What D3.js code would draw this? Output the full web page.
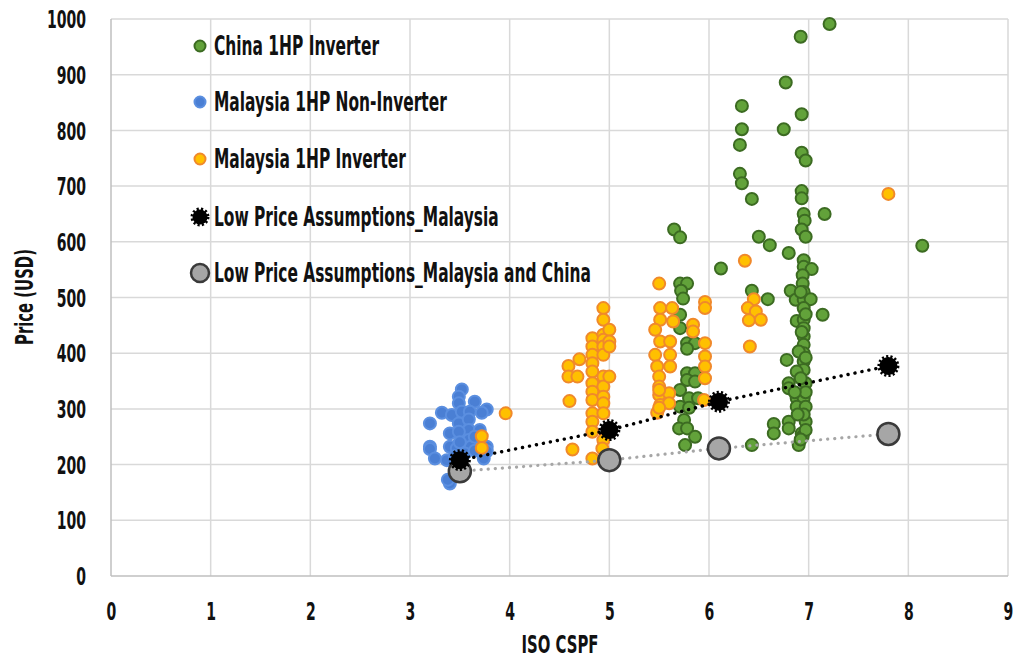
<!DOCTYPE html>
<html><head><meta charset="utf-8">
<script src="https://cdn.jsdelivr.net/npm/d3@7"></script>
<style>
html,body{margin:0;padding:0;background:#fff;}
svg text{font-family:"DejaVu Sans Condensed","DejaVu Sans",sans-serif;font-stretch:condensed;font-weight:bold;fill:#111;}
</style></head>
<body><svg id="c" width="1015" height="660"></svg>
<script>
const seriesNames = ["China 1HP Inverter","Malaysia 1HP Non-Inverter","Malaysia 1HP Inverter","Low Price Assumptions_Malaysia","Low Price Assumptions_Malaysia and China"];
const xTicks = [0,1,2,3,4,5,6,7,8,9];
const yTicks = [0,100,200,300,400,500,600,700,800,900,1000];

const chinaInverter = [
 [7.21,991],[6.92,968],[6.77,886],[6.33,844],[6.93,829],[6.33,802],[6.75,802],[6.31,774],[6.93,760],[6.97,746],
 [6.31,722],[6.33,705],[6.43,677],[6.93,691],[6.93,678],[7.16,650],[6.95,650],[6.96,638],[6.93,622],[6.97,609],
 [6.50,609],[6.61,594],[6.80,580],[5.65,622],[5.71,608],[6.12,552],[6.43,512],[6.82,512],[6.59,497],[6.87,496],
 [7.14,469],[6.88,458],[6.95,567],[6.95,555],[7.03,551],[6.94,540],[6.94,525],[6.95,510],[6.95,496],[7.02,497],
 [6.95,481],[6.95,460],[6.95,445],[6.95,430],[6.95,415],[6.95,400],[6.95,385],[6.95,370],[6.90,403],[6.78,388],
 [6.88,367],[6.80,346],[6.80,337],[6.97,346],[6.88,319],[6.95,319],[6.88,304],[6.97,304],[6.97,277],[6.80,277],
 [6.65,273],[6.65,256],[6.80,265],[6.93,256],[6.94,251],[6.90,235],[6.43,235],[6.97,330],[6.95,290],[6.92,355],
 [6.97,392],[6.93,438],[6.97,470],[6.92,510],[6.89,290],[6.97,262],[6.86,330],[6.92,245],
 [5.71,525],[5.78,525],[5.72,512],[5.74,498],[5.71,469],[5.71,445],[5.78,418],[5.86,418],[5.78,408],[5.78,364],
 [5.86,364],[5.78,352],[5.86,349],[5.71,334],[5.80,319],[5.89,319],[5.71,304],[5.80,302],[5.75,280],[5.70,265],
 [5.78,265],[5.86,250],[5.76,235],[8.14,593]
];
const malaysiaNonInverter = [
 [3.52,335],[3.49,322],[3.49,310],[3.65,313],[3.77,299],[3.32,293],[3.42,289],[3.52,295],[3.60,295],[3.72,293],
 [3.20,274],[3.49,274],[3.59,281],[3.40,256],[3.59,262],[3.49,259],[3.70,262],[3.59,244],[3.20,232],[3.20,228],
 [3.40,232],[3.47,229],[3.61,232],[3.77,232],[3.77,224],[3.25,211],[3.37,208],[3.74,211],[3.40,166],[3.38,173],
 [3.50,240],[3.65,250],[3.55,220],[3.45,215],[3.65,225]
];
const malaysiaInverter = [
 [3.96,292],[3.72,251],[3.72,230],
 [4.59,377],[4.70,389],[4.59,358],[4.68,358],[4.60,314],[4.63,227],
 [4.83,427],[4.83,412],[4.83,397],[4.83,382],[4.83,367],[4.83,346],[4.83,331],[4.83,316],[4.83,292],[4.83,277],[4.83,259],[4.83,211],
 [4.94,481],[4.94,460],[4.94,433],[4.94,424],[4.94,412],[4.94,397],[4.94,358],[4.94,340],[4.94,322],[4.94,310],[4.94,292],[4.94,244],
 [5.00,442],[5.00,421],[5.00,412],[5.00,358],[4.93,229],
 [5.50,525],[5.51,481],[5.51,460],[5.46,442],[5.51,421],[5.46,397],[5.48,376],[5.50,358],[5.50,340],[5.50,325],[5.51,307],[5.48,293],
 [5.63,481],[5.64,457],[5.61,421],[5.61,397],[5.61,376],[5.60,328],[5.60,310],[5.50,334],[5.50,302],
 [5.96,492],[5.96,481],[5.84,451],[5.84,439],[5.96,418],[5.96,394],[5.96,376],[5.96,355],[5.95,316],
 [6.36,566],[6.45,497],[6.39,481],[6.47,475],[6.40,459],[6.52,460],[6.41,412],
 [7.80,686]
];
const assumptionX = [3.5,5.0,6.1,7.8];
const lowPriceMalaysia = [208,262,313,377];
const lowPriceMalaysiaChina = [188,208,229,255];

const svg = d3.select("#c");
const x = d3.scaleLinear().domain([0,9]).range([111,1008]);
const y = d3.scaleLinear().domain([0,1000]).range([576,19]);

function squeeze(sel, s){
 sel.each(function(){
  const t = d3.select(this);
  const ax = +t.attr("x") || 0;
  t.attr("transform", `translate(${ax},0) scale(${s},1) translate(${-ax},0)`);
 });
}

// grid
svg.append("g").selectAll("line").data(yTicks.slice(1)).join("line")
 .attr("x1",x(0)).attr("x2",x(9)).attr("y1",d=>y(d)).attr("y2",d=>y(d))
 .attr("stroke","#d9d9d9").attr("stroke-width",1.5);
svg.append("g").selectAll("line").data(xTicks.slice(1)).join("line")
 .attr("y1",y(0)).attr("y2",y(1000)).attr("x1",d=>x(d)).attr("x2",d=>x(d))
 .attr("stroke","#d9d9d9").attr("stroke-width",1.5);
svg.append("line").attr("x1",x(0)).attr("x2",x(9)).attr("y1",y(0)).attr("y2",y(0)).attr("stroke","#bfbfbf").attr("stroke-width",1.5);
svg.append("line").attr("x1",x(0)).attr("x2",x(0)).attr("y1",y(0)).attr("y2",y(1000)).attr("stroke","#bfbfbf").attr("stroke-width",1.5);

const xAxis = svg.append("g").attr("transform",`translate(0,${y(0)})`).call(d3.axisBottom(x).tickValues(xTicks).tickSize(0).tickFormat(d3.format("d")));
const yAxis = svg.append("g").attr("transform",`translate(${x(0)},0)`).call(d3.axisLeft(y).tickValues(yTicks).tickSize(0).tickPadding(25).tickFormat(d3.format("d")));
[xAxis,yAxis].forEach(a=>{a.select(".domain").remove();a.selectAll("text").attr("font-size",24).attr("font-family",null).style("fill","#111");});
xAxis.selectAll("text").attr("y",35).attr("dy","0.36em");
yAxis.selectAll("text").attr("dy","0.36em");
squeeze(xAxis.selectAll("text"),0.65);
squeeze(yAxis.selectAll("text"),0.65);

const xt = svg.append("g").attr("transform","translate(560,644)");
squeeze(xt.append("text").attr("text-anchor","middle").attr("dy","0.36em").attr("font-size",25).text("ISO CSPF"),0.66);
const yt = svg.append("g").attr("transform","translate(24,297) rotate(-90)");
squeeze(yt.append("text").attr("text-anchor","middle").attr("dy","0.36em").attr("font-size",25).text("Price (USD)"),0.66);

const styles = [
 {fill:"#62a23a",stroke:"#3c6b22"},
 {fill:"#4a7fd4",stroke:"#5b8fe0"},
 {fill:"#ffc000",stroke:"#f0892b"}
];
const plot = svg.append("g");
[chinaInverter,malaysiaNonInverter,malaysiaInverter].forEach((data,i)=>{
 plot.append("g").selectAll("circle").data(data).join("circle")
  .attr("cx",d=>x(d[0])).attr("cy",d=>y(d[1])).attr("r",6)
  .attr("fill",styles[i].fill).attr("stroke",styles[i].stroke).attr("stroke-width",2);
});

const line = d3.line().x(d=>x(d[0])).y(d=>y(d[1]));
const grayPts = assumptionX.map((v,i)=>[v,lowPriceMalaysiaChina[i]]);
const blackPts = assumptionX.map((v,i)=>[v,lowPriceMalaysia[i]]);
plot.append("path").attr("d",line(grayPts)).attr("fill","none").attr("stroke","#a6a6a6").attr("stroke-width",3.2).attr("stroke-linecap","round").attr("stroke-dasharray","0.1 7");
plot.append("path").attr("d",line(blackPts)).attr("fill","none").attr("stroke","#000").attr("stroke-width",3.4).attr("stroke-linecap","round").attr("stroke-dasharray","0.1 7");

function blackMarker(g,cx,cy,r){
 g.append("circle").attr("cx",cx).attr("cy",cy).attr("r",r).attr("fill","#000").attr("stroke","#000").attr("stroke-width",4).attr("stroke-dasharray","2 2");
}
function grayMarker(g,cx,cy,r){
 g.append("circle").attr("cx",cx).attr("cy",cy).attr("r",r).attr("fill","#a6a6a6").attr("stroke","#3a3a3a").attr("stroke-width",2.5);
}
grayPts.forEach(d=>grayMarker(plot,x(d[0]),y(d[1]),11));
blackPts.forEach(d=>blackMarker(plot,x(d[0]),y(d[1]),9));

// legend
const legY = [46,102,159,217,273];
const leg = svg.append("g");
seriesNames.forEach((n,i)=>{
 const cy = legY[i];
 if(i<3) leg.append("circle").attr("cx",200).attr("cy",cy).attr("r",5.5).attr("fill",styles[i].fill).attr("stroke",styles[i].stroke).attr("stroke-width",2);
 else if(i===3) blackMarker(leg,200,cy,7.5);
 else grayMarker(leg,200,cy,9);
 squeeze(leg.append("text").attr("x",214).attr("y",cy).attr("dy","0.36em").attr("font-size",26).text(n),0.66);
});
</script></body></html>
